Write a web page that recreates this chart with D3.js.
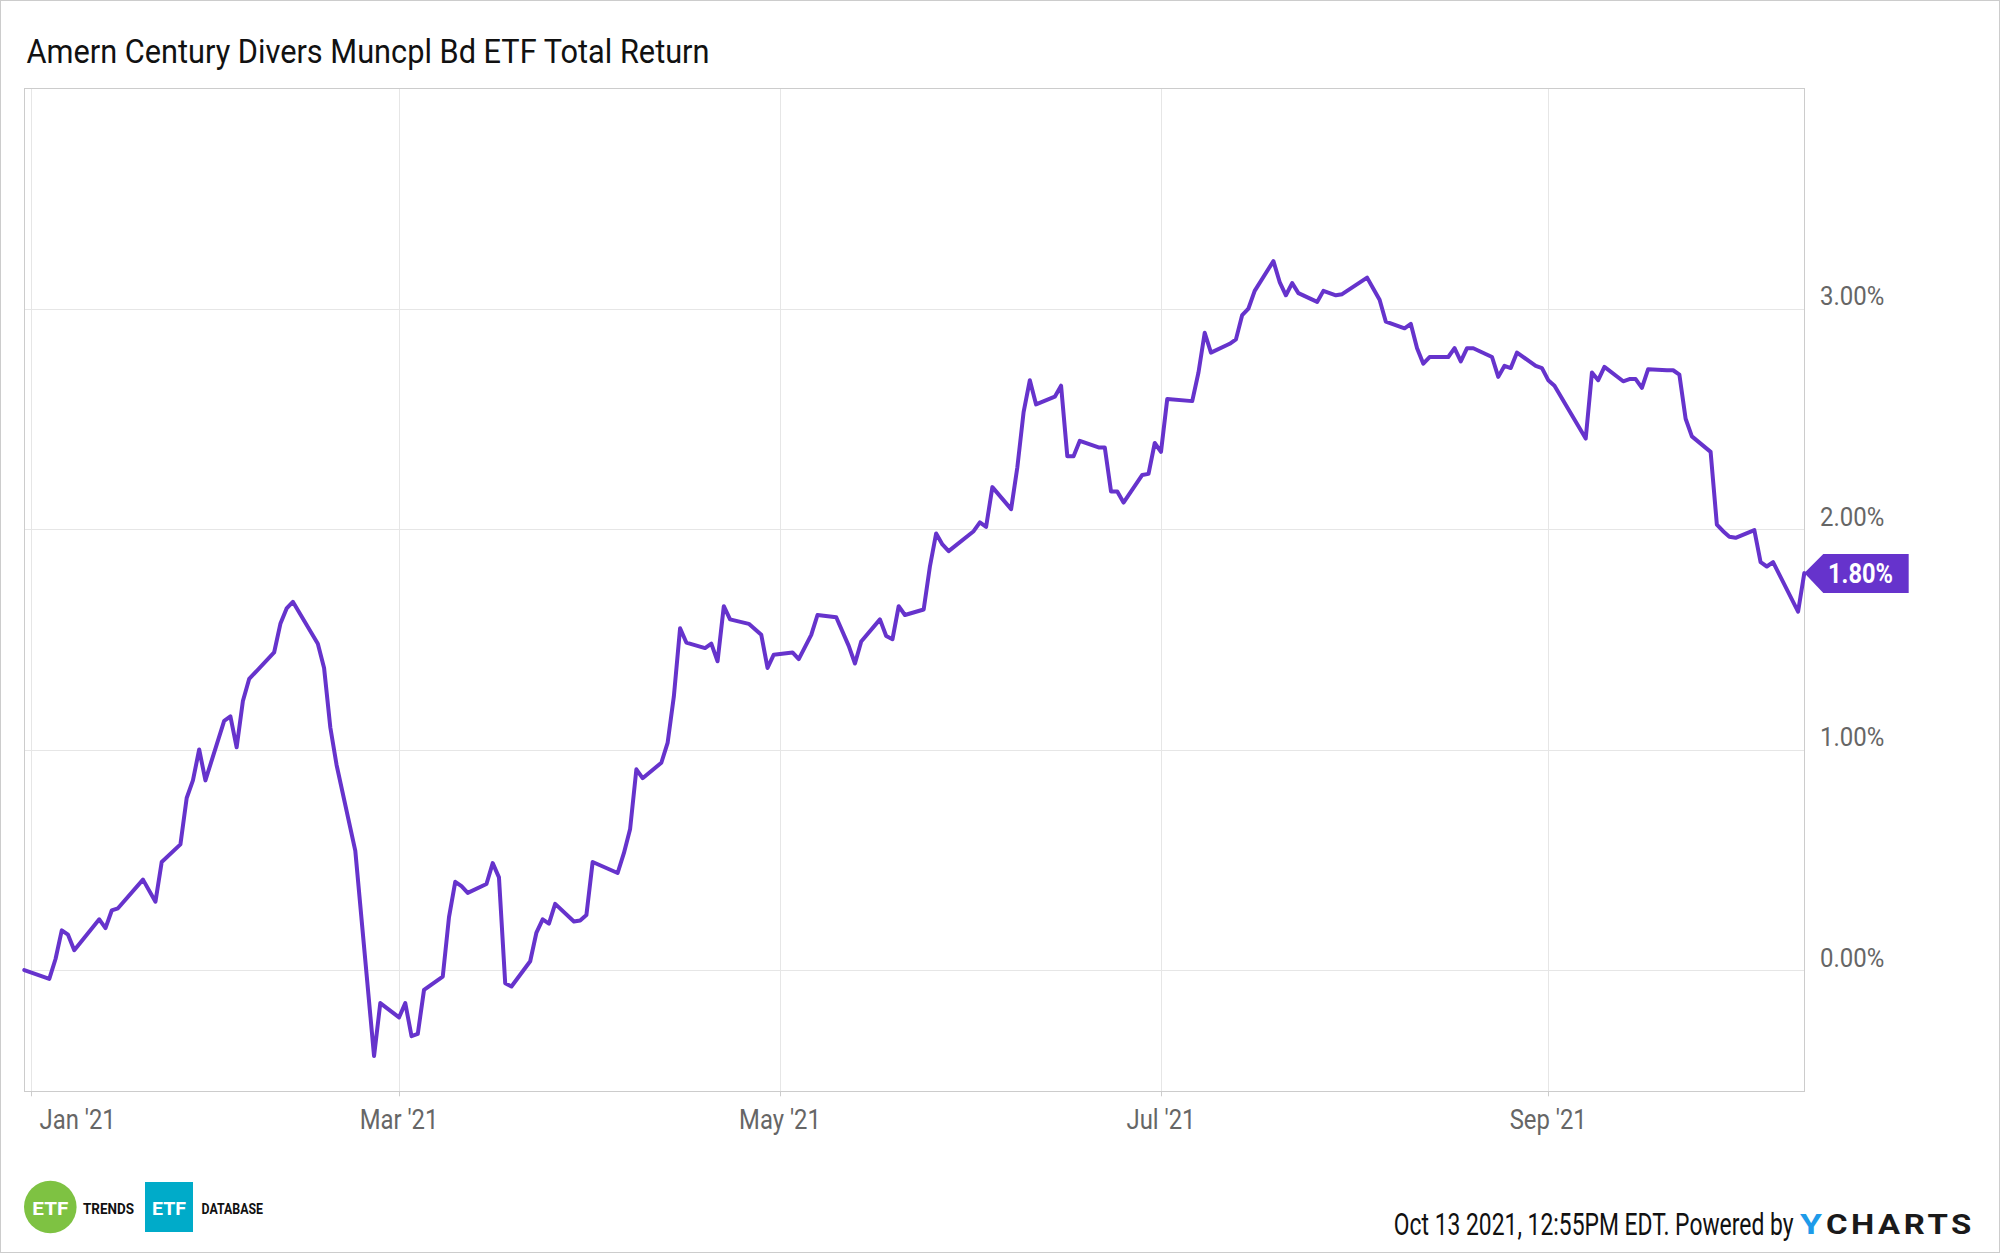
<!DOCTYPE html>
<html>
<head>
<meta charset="utf-8">
<script src="https://cdn.jsdelivr.net/npm/d3@7"></script>
<style>
  html, body { margin: 0; padding: 0; background: #fff; }
  svg { display: block; font-family: Roboto, "Noto Sans", sans-serif; }
</style>
</head>
<body>
<svg id="chart" width="2000" height="1253"></svg>
<script>
// ---------------- DATA ----------------
const titleText = "Amern Century Divers Muncpl Bd ETF Total Return";
const seriesDates = [
  "2020-12-31","2021-01-04","2021-01-05","2021-01-06","2021-01-07","2021-01-08","2021-01-12","2021-01-13","2021-01-14","2021-01-15",
  "2021-01-19","2021-01-21","2021-01-22","2021-01-25","2021-01-26","2021-01-27","2021-01-28","2021-01-29","2021-02-01","2021-02-02",
  "2021-02-03","2021-02-04","2021-02-05","2021-02-09","2021-02-10","2021-02-11","2021-02-12","2021-02-16","2021-02-17","2021-02-18",
  "2021-02-19","2021-02-22","2021-02-25","2021-02-26","2021-03-01","2021-03-02","2021-03-03","2021-03-04","2021-03-05","2021-03-08",
  "2021-03-09","2021-03-10","2021-03-11","2021-03-12","2021-03-15","2021-03-16","2021-03-17","2021-03-18","2021-03-19","2021-03-22",
  "2021-03-23","2021-03-24","2021-03-25","2021-03-26","2021-03-29","2021-03-30","2021-03-31","2021-04-01","2021-04-05","2021-04-06",
  "2021-04-07","2021-04-08","2021-04-09","2021-04-12","2021-04-13","2021-04-14","2021-04-15","2021-04-16","2021-04-19","2021-04-20",
  "2021-04-21","2021-04-22","2021-04-23","2021-04-26","2021-04-28","2021-04-29","2021-04-30","2021-05-03","2021-05-04","2021-05-06",
  "2021-05-07","2021-05-10","2021-05-12","2021-05-13","2021-05-14","2021-05-17","2021-05-18","2021-05-19","2021-05-20","2021-05-21",
  "2021-05-24","2021-05-25","2021-05-26","2021-05-27","2021-05-28","2021-06-01","2021-06-02","2021-06-03","2021-06-04","2021-06-07",
  "2021-06-08","2021-06-09","2021-06-10","2021-06-11","2021-06-14","2021-06-15","2021-06-16","2021-06-17","2021-06-18","2021-06-21",
  "2021-06-22","2021-06-23","2021-06-24","2021-06-25","2021-06-28","2021-06-29","2021-06-30","2021-07-01","2021-07-02","2021-07-06",
  "2021-07-07","2021-07-08","2021-07-09","2021-07-12","2021-07-13","2021-07-14","2021-07-15","2021-07-16","2021-07-19","2021-07-20",
  "2021-07-21","2021-07-22","2021-07-23","2021-07-26","2021-07-27","2021-07-29","2021-07-30","2021-08-03","2021-08-04","2021-08-05",
  "2021-08-06","2021-08-09","2021-08-10","2021-08-11","2021-08-12","2021-08-13","2021-08-16","2021-08-17","2021-08-18","2021-08-19",
  "2021-08-20","2021-08-23","2021-08-24","2021-08-25","2021-08-26","2021-08-27","2021-08-30","2021-08-31","2021-09-01","2021-09-02",
  "2021-09-07","2021-09-08","2021-09-09","2021-09-10","2021-09-13","2021-09-14","2021-09-15","2021-09-16","2021-09-17","2021-09-20",
  "2021-09-21","2021-09-22","2021-09-23","2021-09-24","2021-09-27","2021-09-28","2021-09-29","2021-09-30","2021-10-01","2021-10-04",
  "2021-10-05","2021-10-06","2021-10-07","2021-10-11","2021-10-12"
];
const seriesValues = [
  0.00,-0.04,0.05,0.18,0.16,0.09,0.23,0.19,0.27,0.28,
  0.41,0.31,0.49,0.57,0.78,0.86,1.00,0.86,1.13,1.15,
  1.01,1.22,1.32,1.44,1.57,1.64,1.67,1.48,1.37,1.10,
  0.93,0.54,-0.39,-0.15,-0.215,-0.15,-0.30,-0.29,-0.09,-0.03,
  0.24,0.40,0.38,0.35,0.39,0.485,0.42,-0.06,-0.075,0.04,
  0.17,0.23,0.21,0.30,0.22,0.225,0.25,0.49,0.44,0.53,
  0.64,0.91,0.87,0.94,1.03,1.24,1.55,1.485,1.46,1.48,
  1.40,1.65,1.59,1.57,1.52,1.37,1.43,1.44,1.41,1.52,
  1.61,1.60,1.47,1.39,1.49,1.59,1.515,1.50,1.65,1.61,
  1.635,1.83,1.98,1.93,1.90,1.99,2.03,2.01,2.19,2.09,
  2.28,2.53,2.675,2.565,2.60,2.65,2.33,2.33,2.40,2.37,
  2.37,2.17,2.17,2.12,2.245,2.25,2.39,2.35,2.59,2.58,
  2.71,2.89,2.80,2.84,2.86,2.97,3.00,3.08,3.215,3.12,
  3.06,3.115,3.07,3.03,3.08,3.06,3.065,3.14,3.09,3.04,
  2.94,2.91,2.93,2.82,2.75,2.78,2.78,2.82,2.76,2.82,
  2.82,2.78,2.69,2.74,2.73,2.80,2.74,2.73,2.675,2.65,
  2.41,2.71,2.675,2.735,2.67,2.68,2.68,2.64,2.725,2.72,
  2.72,2.70,2.50,2.42,2.35,2.02,1.99,1.965,1.96,1.995,
  1.85,1.83,1.85,1.625,1.80
];
const xDomain = ["2020-12-31", "2021-10-12"];
const yDomain = [-0.55, 4.0];
const xTickDates = ["2021-01-01","2021-03-01","2021-05-01","2021-07-01","2021-09-01"];
const xTickLabels = ["Jan '21","Mar '21","May '21","Jul '21","Sep '21"];
const yTickValues = [0, 1, 2, 3];
const yTickLabels = ["0.00%","1.00%","2.00%","3.00%"];
const lastLabel = "1.80%";
const footerText = "Oct 13 2021, 12:55PM EDT. Powered by";

// ---------------- LAYOUT ----------------
const W = 2000, H = 1253;
const plot = { left: 24.3, right: 1804.3, top: 88, bottom: 1091.3 };
const lineColor = "#6633cc";
const parse = d3.timeParse("%Y-%m-%d");

const svg = d3.select("#chart");

function squeeze(sel, factor) {
  sel.each(function() {
    const w = this.getComputedTextLength();
    d3.select(this).attr("textLength", w * factor).attr("lengthAdjust", "spacingAndGlyphs");
  });
}
function fitTo(sel, width) {
  sel.attr("textLength", width).attr("lengthAdjust", "spacingAndGlyphs");
}
// place text at (px,py) and scale it horizontally so its width equals `width`
function scaledText(parent, px, py, width, str, attrs) {
  const g = parent.append("g");
  const t = g.append("text").attr("x", 0).attr("y", 0).text(str);
  Object.entries(attrs).forEach(([k, v]) => t.attr(k, v));
  const natural = t.node().getComputedTextLength();
  g.attr("transform", `translate(${px},${py}) scale(${width / natural},1)`);
  return t;
}

// outer frame
svg.append("rect").attr("x", 0.5).attr("y", 0.5).attr("width", W - 1).attr("height", H - 1)
  .attr("fill", "#fff").attr("stroke", "#cccccc").attr("stroke-width", 1);

// title
svg.append("text").attr("x", 26.5).attr("y", 63.3)
  .attr("font-size", 33.8).attr("fill", "#111").text(titleText)
  .call(fitTo, 683);

const x = d3.scaleTime().domain(xDomain.map(parse)).range([plot.left, plot.right]);
const y = d3.scaleLinear().domain(yDomain).range([plot.bottom, plot.top]);

// grid
const grid = svg.append("g");
grid.selectAll("line.v").data(xTickDates.map(parse)).join("line")
  .attr("x1", d => Math.round(x(d)) + 0.5).attr("x2", d => Math.round(x(d)) + 0.5)
  .attr("y1", plot.top).attr("y2", plot.bottom)
  .attr("stroke", "#e6e6e6").attr("stroke-width", 1);
grid.selectAll("line.h").data(yTickValues).join("line")
  .attr("x1", plot.left).attr("x2", plot.right)
  .attr("y1", d => Math.round(y(d)) + 0.5).attr("y2", d => Math.round(y(d)) + 0.5)
  .attr("stroke", "#e6e6e6").attr("stroke-width", 1);

// plot border
svg.append("rect")
  .attr("x", Math.round(plot.left) + 0.5).attr("y", Math.round(plot.top) + 0.5)
  .attr("width", Math.round(plot.right) - Math.round(plot.left))
  .attr("height", Math.round(plot.bottom) - Math.round(plot.top))
  .attr("fill", "none").attr("stroke", "#cccccc").attr("stroke-width", 1);

// x ticks
svg.append("g").selectAll("line").data(xTickDates.map(parse)).join("line")
  .attr("x1", d => Math.round(x(d)) + 0.5).attr("x2", d => Math.round(x(d)) + 0.5)
  .attr("y1", plot.bottom).attr("y2", plot.bottom + 5)
  .attr("stroke", "#cccccc");

// x labels
const xl = svg.append("g").selectAll("text").data(xTickDates.map((d, i) => ({ d: parse(d), t: xTickLabels[i] })))
  .join("text")
  .attr("x", d => x(d.d)).attr("y", 1129.3)
  .attr("text-anchor", "middle").attr("font-size", 28.5).attr("fill", "#666")
  .text(d => d.t);
xl.call(squeeze, 0.837);
xl.each(function(d) {
  const w = +this.getAttribute("textLength");
  if (x(d.d) - w / 2 < 39.5) d3.select(this).attr("x", 39.5 + w / 2);
});

// y labels (right)
svg.append("g").selectAll("text").data(yTickValues.map((v, i) => ({ v, t: yTickLabels[i] })))
  .join("text")
  .attr("x", 1820).attr("y", d => y(d.v) - 3.5)
  .attr("font-size", 26).attr("fill", "#666")
  .text(d => d.t)
  .call(fitTo, 64.3);

// line
const data = seriesDates.map((d, i) => ({ date: parse(d), value: seriesValues[i] }));
const line = d3.line().x(d => x(d.date)).y(d => y(d.value));
svg.append("path").datum(data).attr("d", line)
  .attr("fill", "none").attr("stroke", lineColor).attr("stroke-width", 4)
  .attr("stroke-linejoin", "round").attr("stroke-linecap", "round");

// last value flag
const last = data[data.length - 1];
const ty = y(last.value), tx = x(last.date);
svg.append("path")
  .attr("d", `M${tx},${ty} L${tx + 19},${ty - 19} L${1908.7},${ty - 19} L${1908.7},${ty + 20} L${tx + 19},${ty + 20} Z`)
  .attr("fill", lineColor);
svg.append("text").attr("x", 1828).attr("y", ty + 9.7)
  .attr("font-size", 27).attr("font-weight", "bold").attr("fill", "#fff")
  .text(lastLabel).call(fitTo, 65);

// footer logos
const logo = svg.append("g");
logo.append("circle").attr("cx", 50.3).attr("cy", 1207).attr("r", 26.3).attr("fill", "#7ec242");
logo.append("text").attr("x", 50.3).attr("y", 1214.5).attr("text-anchor", "middle")
  .attr("font-size", 19).attr("font-weight", "bold").attr("fill", "#fff").text("ETF").call(fitTo, 36);
logo.append("text").attr("x", 83).attr("y", 1214.3)
  .attr("font-size", 14).attr("font-weight", "bold").attr("fill", "#111").text("TRENDS").call(fitTo, 51);
logo.append("rect").attr("x", 145).attr("y", 1182).attr("width", 48).attr("height", 50).attr("fill", "#00abc9");
logo.append("text").attr("x", 169).attr("y", 1214.5).attr("text-anchor", "middle")
  .attr("font-size", 19).attr("font-weight", "bold").attr("fill", "#fff").text("ETF").call(fitTo, 34);
logo.append("text").attr("x", 201.5).attr("y", 1214.3)
  .attr("font-size", 14).attr("font-weight", "bold").attr("fill", "#111").text("DATABASE").call(fitTo, 61.5);

// footer right (scaled with transforms so boxes match what is drawn)
const footer = svg.append("g");
scaledText(footer, 1393.8, 1235, 400, footerText, { "font-size": 30.5, fill: "#111" });
scaledText(footer, 1800, 1234, 22, "Y", { "font-size": 28, "font-weight": "bold", fill: "#1e9be9" });
scaledText(footer, 1826, 1234, 149, "CHARTS", { "font-size": 28, "font-weight": "bold", fill: "#1a1a1a", "letter-spacing": 3 });
</script>
</body>
</html>
